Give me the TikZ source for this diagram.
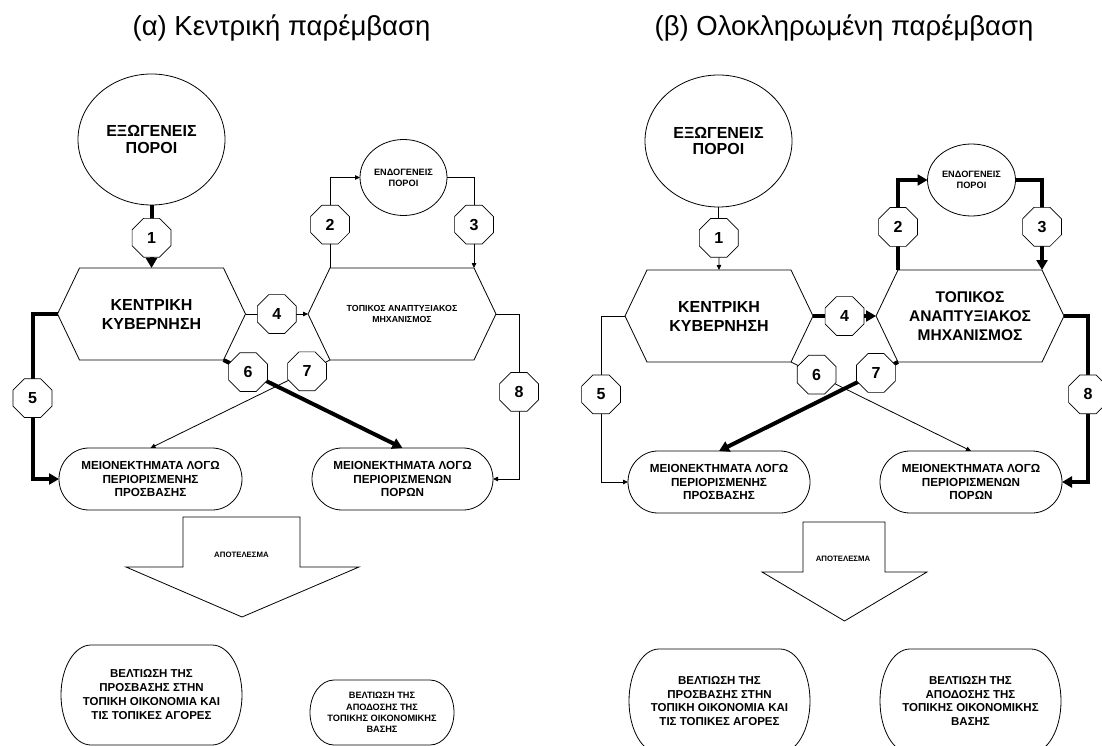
\documentclass[tikz,border=0pt]{standalone}
\usepackage{fontspec}
\setmainfont{Liberation Sans}
\usetikzlibrary{shapes.geometric,arrows.meta}

% hexagon outline round a rectangle node, with its four corners as coordinates
\newcommand{\HexFrame}[1]{%
  \coordinate (#1-nw) at ([xshift=22pt]#1.north west);
  \coordinate (#1-ne) at ([xshift=-22pt]#1.north east);
  \coordinate (#1-se) at ([xshift=-22pt]#1.south east);
  \coordinate (#1-sw) at ([xshift=22pt]#1.south west);
  \draw[line width=0.8pt] (#1.west) -- (#1-nw) -- (#1-ne) -- (#1.east)
    -- (#1-se) -- (#1-sw) -- cycle;}
% oval outline round a rectangle node: node, x radius, y radius
\newcommand{\OvalFrame}[3]{%
  \draw[line width=0.8pt] ([xshift=#2]#1.north west) -- ([xshift=-#2]#1.north east)
    arc[start angle=90, end angle=-90, x radius=#2, y radius=#3]
    -- ([xshift=#2]#1.south west)
    arc[start angle=270, end angle=90, x radius=#2, y radius=#3] -- cycle;}

\begin{document}
\begin{tikzpicture}[x=1pt,y=-1pt]
  \useasboundingbox (0,0) rectangle (1102,746);
  \tikzset{TitleStyle/.style = {
    shape         = rectangle,
    inner sep     = 0pt,
    font          = \fontsize{27.5}{30}\selectfont
    }
  }
  \tikzset{EllipseStyle/.style = {
    shape         = ellipse,
    draw          = black,
    fill          = white,
    line width    = 0.8pt,
    inner sep     = 0pt,
    outer sep     = 0pt,
    align         = center
    }
  }
  \tikzset{HexStyle/.style = {
    shape         = rectangle,
    minimum width = 188pt,
    minimum height= 92pt,
    inner sep     = 0pt,
    outer sep     = 0pt,
    align         = center
    }
  }
  \tikzset{OvalStyle/.style = {
    shape         = rectangle,
    inner sep     = 0pt,
    outer sep     = 0pt,
    align         = center,
    font          = \bfseries\fontsize{11.7}{13.6}\selectfont
    }
  }
  \tikzset{OctaStyle/.style = {
    shape         = regular polygon,
    regular polygon sides = 8,
    draw          = black,
    fill          = white,
    line width    = 0.7pt,
    minimum size  = 42pt,
    inner sep     = 0pt,
    font          = \bfseries\fontsize{16}{16}\selectfont
    }
  }
  \tikzset{ThinEdgeStyle/.style = {
    draw          = black,
    line width    = 0.8pt,
    -{Triangle[length=5pt,width=4.5pt]}
    }
  }
  \tikzset{ThickEdgeStyle/.style = {
    draw          = black,
    line width    = 4pt,
    -{Triangle[length=10pt,width=11pt]}
    }
  }

  % (a)
  \node[TitleStyle](TitleA) at (281.5, 27.5) {(α) Κεντρική παρέμβαση};
  \node[EllipseStyle, minimum width=147pt, minimum height=131pt,
    font=\bfseries\fontsize{16}{16.5}\selectfont](ExoA) at (151.5, 139.5) {ΕΞΩΓΕΝΕΙΣ\\ΠΟΡΟΙ};
  \node[EllipseStyle, minimum width=87pt, minimum height=76pt,
    font=\bfseries\fontsize{9.2}{10.7}\selectfont](EndoA) at (403.5, 177.5) {ΕΝΔΟΓΕΝΕΙΣ\\ΠΟΡΟΙ};
  \node[HexStyle, font=\bfseries\fontsize{16}{19}\selectfont](CentralA) at (151.5, 314) {ΚΕΝΤΡΙΚΗ\\ΚΥΒΕΡΝΗΣΗ};
  \node[HexStyle, font=\bfseries\fontsize{8.8}{10.7}\selectfont](LocalA) at (402, 314) {ΤΟΠΙΚΟΣ ΑΝΑΠΤΥΞΙΑΚΟΣ\\ΜΗΧΑΝΙΣΜΟΣ};
  \node[OvalStyle, minimum width=183pt, minimum height=62pt](AccessA) at (150.5, 479) {ΜΕΙΟΝΕΚΤΗΜΑΤΑ ΛΟΓΩ\\ΠΕΡΙΟΡΙΣΜΕΝΗΣ\\ΠΡΟΣΒΑΣΗΣ};
  \node[OvalStyle, minimum width=181pt, minimum height=62pt](ResourceA) at (402.5, 479) {ΜΕΙΟΝΕΚΤΗΜΑΤΑ ΛΟΓΩ\\ΠΕΡΙΟΡΙΣΜΕΝΩΝ\\ΠΟΡΩΝ};
  \node[OvalStyle, minimum width=181pt, minimum height=100pt,
    font=\bfseries\fontsize{11.5}{14}\selectfont](GainAccessA) at (151.5, 695) {ΒΕΛΤΙΩΣΗ ΤΗΣ\\ΠΡΟΣΒΑΣΗΣ ΣΤΗΝ\\ΤΟΠΙΚΗ ΟΙΚΟΝΟΜΙΑ ΚΑΙ\\ΤΙΣ ΤΟΠΙΚΕΣ ΑΓΟΡΕΣ};
  \node[OvalStyle, minimum width=144pt, minimum height=65pt,
    font=\bfseries\fontsize{9.2}{11.4}\selectfont](GainBaseA) at (382, 712.5) {ΒΕΛΤΙΩΣΗ ΤΗΣ\\ΑΠΟΔΟΣΗΣ ΤΗΣ\\ΤΟΠΙΚΗΣ ΟΙΚΟΝΟΜΙΚΗΣ\\ΒΑΣΗΣ};
  \HexFrame{CentralA}
  \HexFrame{LocalA}
  \OvalFrame{AccessA}{30pt}{31pt}
  \OvalFrame{ResourceA}{30pt}{31pt}
  \OvalFrame{GainAccessA}{30pt}{50pt}
  \OvalFrame{GainBaseA}{24pt}{32.5pt}
  %
  \draw[line width=0.8pt] (183, 517) -- (300, 517) -- (300, 567) -- (359, 567)
    -- (242, 617) -- (126, 567) -- (183, 567) -- cycle;
  \node[font=\bfseries\fontsize{7.8}{8}\selectfont](ResultA) at (241.5, 555) {ΑΠΟΤΕΛΕΣΜΑ};
  %
  \draw[ThickEdgeStyle](ExoA.south) to node[OctaStyle, pos=0.52]{1} (CentralA.north);
  \draw[ThinEdgeStyle](LocalA-nw) -- node[OctaStyle, pos=0.48]{2} (LocalA-nw |- EndoA.west) -- (EndoA.west);
  \draw[ThinEdgeStyle](EndoA.east) -- (LocalA-ne |- EndoA.east) -- node[OctaStyle, pos=0.52]{3} (LocalA-ne);
  \draw[ThinEdgeStyle](CentralA.east) to node[OctaStyle]{4} (LocalA.west);
  \draw[ThickEdgeStyle](CentralA.west) -- ++(-25, 0) |- node[OctaStyle, pos=0.255]{5} (AccessA.west);
  \draw[ThickEdgeStyle](CentralA-se) to node[OctaStyle, pos=0.137]{6} (ResourceA.north);
  \draw[ThinEdgeStyle](LocalA-sw) to node[OctaStyle, pos=0.128]{7} (AccessA.north);
  \draw[ThinEdgeStyle](LocalA.east) -- ++(23, 0) |- node[OctaStyle, pos=0.236]{8} (ResourceA.east);

  % (b)
  \node[TitleStyle](TitleB) at (844, 27.5) {(β) Ολοκληρωμένη παρέμβαση};
  \node[EllipseStyle, minimum width=147pt, minimum height=132pt,
    font=\bfseries\fontsize{16}{16.5}\selectfont](ExoB) at (718.5, 141) {ΕΞΩΓΕΝΕΙΣ\\ΠΟΡΟΙ};
  \node[EllipseStyle, minimum width=88pt, minimum height=72pt,
    font=\bfseries\fontsize{9.2}{10.7}\selectfont](EndoB) at (971.5, 180) {ΕΝΔΟΓΕΝΕΙΣ\\ΠΟΡΟΙ};
  \node[HexStyle, font=\bfseries\fontsize{16}{19}\selectfont](CentralB) at (719, 316) {ΚΕΝΤΡΙΚΗ\\ΚΥΒΕΡΝΗΣΗ};
  \node[HexStyle, font=\bfseries\fontsize{15.5}{18.8}\selectfont](LocalB) at (970, 316) {ΤΟΠΙΚΟΣ\\ΑΝΑΠΤΥΞΙΑΚΟΣ\\ΜΗΧΑΝΙΣΜΟΣ};
  \node[OvalStyle, minimum width=182pt, minimum height=62pt](AccessB) at (719, 482) {ΜΕΙΟΝΕΚΤΗΜΑΤΑ ΛΟΓΩ\\ΠΕΡΙΟΡΙΣΜΕΝΗΣ\\ΠΡΟΣΒΑΣΗΣ};
  \node[OvalStyle, minimum width=182pt, minimum height=62pt](ResourceB) at (971, 482) {ΜΕΙΟΝΕΚΤΗΜΑΤΑ ΛΟΓΩ\\ΠΕΡΙΟΡΙΣΜΕΝΩΝ\\ΠΟΡΩΝ};
  \node[OvalStyle, minimum width=181pt, minimum height=104pt,
    font=\bfseries\fontsize{11.5}{13.9}\selectfont](GainAccessB) at (719.5, 701) {ΒΕΛΤΙΩΣΗ ΤΗΣ\\ΠΡΟΣΒΑΣΗΣ ΣΤΗΝ\\ΤΟΠΙΚΗ ΟΙΚΟΝΟΜΙΑ ΚΑΙ\\ΤΙΣ ΤΟΠΙΚΕΣ ΑΓΟΡΕΣ};
  \node[OvalStyle, minimum width=181pt, minimum height=104pt,
    font=\bfseries\fontsize{11.5}{13.9}\selectfont](GainBaseB) at (970.5, 701) {ΒΕΛΤΙΩΣΗ ΤΗΣ\\ΑΠΟΔΟΣΗΣ ΤΗΣ\\ΤΟΠΙΚΗΣ ΟΙΚΟΝΟΜΙΚΗΣ\\ΒΑΣΗΣ};
  \HexFrame{CentralB}
  \HexFrame{LocalB}
  \OvalFrame{AccessB}{30pt}{31pt}
  \OvalFrame{ResourceB}{30pt}{31pt}
  \OvalFrame{GainAccessB}{30pt}{52pt}
  \OvalFrame{GainBaseB}{30pt}{52pt}
  %
  \draw[line width=0.8pt] (803, 522) -- (885, 522) -- (885, 572) -- (927, 572)
    -- (844.5, 621) -- (762, 572) -- (803, 572) -- cycle;
  \node[font=\bfseries\fontsize{7.8}{8}\selectfont](ResultB) at (843, 559) {ΑΠΟΤΕΛΕΣΜΑ};
  %
  \draw[ThinEdgeStyle](ExoB.south) to node[OctaStyle, pos=0.49]{1} (CentralB.north);
  \draw[ThickEdgeStyle](LocalB-nw) -- node[OctaStyle, pos=0.478]{2} (LocalB-nw |- EndoB.west) -- (EndoB.west);
  \draw[ThickEdgeStyle](EndoB.east) -- (LocalB-ne |- EndoB.east) -- node[OctaStyle, pos=0.52]{3} (LocalB-ne);
  \draw[ThickEdgeStyle](CentralB.east) to node[OctaStyle]{4} (LocalB.west);
  \draw[ThinEdgeStyle](CentralB.west) -- ++(-24, 0) |- node[OctaStyle, pos=0.236]{5} (AccessB.west);
  \draw[ThinEdgeStyle](CentralB-se) to node[OctaStyle, pos=0.142]{6} (ResourceB.north);
  \draw[ThickEdgeStyle](LocalB-sw) to node[OctaStyle, pos=0.123]{7} (AccessB.north);
  \draw[ThickEdgeStyle](LocalB.east) -- ++(24, 0) |- node[OctaStyle, pos=0.236]{8} (ResourceB.east);
\end{tikzpicture}
\end{document}
